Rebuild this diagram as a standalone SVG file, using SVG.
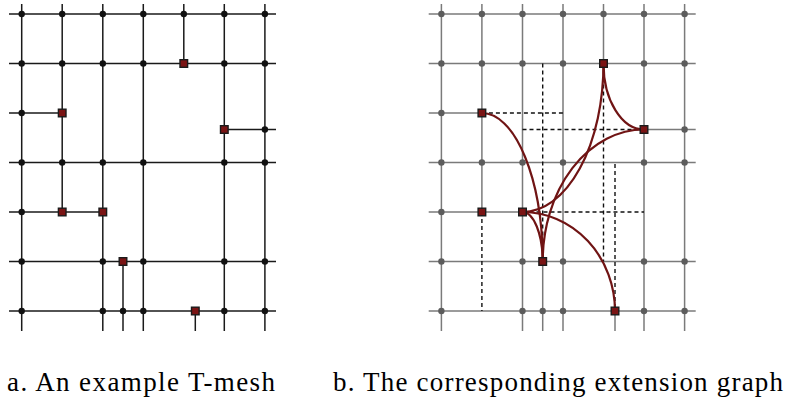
<svg xmlns="http://www.w3.org/2000/svg" width="787" height="401" viewBox="0 0 787 401">
<style>
.mesh{stroke:#1a1a1a;stroke-width:1.5}
.gmesh{stroke:#7a7a7a;stroke-width:1.5}
.dash{stroke:#111;stroke-width:1.4;stroke-dasharray:4 3}
.curve{fill:none;stroke:#701414;stroke-width:2.2}
.dot{fill:#111}
.gdot{fill:#5c5c5c}
.tj{fill:#7a1414;stroke:#1a1a1a;stroke-width:1.4}
.cap{font-family:"Liberation Serif","DejaVu Serif",serif;font-size:27px;fill:#000}
</style>
<defs>
<g id="meshlines">
<line x1="9" y1="14" x2="276" y2="14"/>
<line x1="9" y1="63.5" x2="276" y2="63.5"/>
<line x1="9" y1="113" x2="62.2" y2="113"/>
<line x1="224.3" y1="129.5" x2="276" y2="129.5"/>
<line x1="9" y1="162.5" x2="276" y2="162.5"/>
<line x1="9" y1="212" x2="102.8" y2="212"/>
<line x1="9" y1="261.5" x2="276" y2="261.5"/>
<line x1="9" y1="311" x2="276" y2="311"/>
<line x1="21.7" y1="4" x2="21.7" y2="331"/>
<line x1="62.2" y1="4" x2="62.2" y2="212"/>
<line x1="102.8" y1="4" x2="102.8" y2="331"/>
<line x1="123" y1="261.5" x2="123" y2="331"/>
<line x1="143.3" y1="4" x2="143.3" y2="331"/>
<line x1="183.8" y1="4" x2="183.8" y2="63.5"/>
<line x1="195.3" y1="311" x2="195.3" y2="331"/>
<line x1="224.3" y1="4" x2="224.3" y2="331"/>
<line x1="264.9" y1="4" x2="264.9" y2="331"/>
</g>
<g id="dots">
<circle cx="21.7" cy="14" r="3.2"/><circle cx="62.2" cy="14" r="3.2"/><circle cx="102.8" cy="14" r="3.2"/><circle cx="143.3" cy="14" r="3.2"/><circle cx="183.8" cy="14" r="3.2"/><circle cx="224.3" cy="14" r="3.2"/><circle cx="264.9" cy="14" r="3.2"/>
<circle cx="21.7" cy="63.5" r="3.2"/><circle cx="62.2" cy="63.5" r="3.2"/><circle cx="102.8" cy="63.5" r="3.2"/><circle cx="143.3" cy="63.5" r="3.2"/><circle cx="224.3" cy="63.5" r="3.2"/><circle cx="264.9" cy="63.5" r="3.2"/>
<circle cx="21.7" cy="113" r="3.2"/>
<circle cx="264.9" cy="129.5" r="3.2"/>
<circle cx="21.7" cy="162.5" r="3.2"/><circle cx="62.2" cy="162.5" r="3.2"/><circle cx="102.8" cy="162.5" r="3.2"/><circle cx="143.3" cy="162.5" r="3.2"/><circle cx="224.3" cy="162.5" r="3.2"/><circle cx="264.9" cy="162.5" r="3.2"/>
<circle cx="21.7" cy="212" r="3.2"/>
<circle cx="21.7" cy="261.5" r="3.2"/><circle cx="102.8" cy="261.5" r="3.2"/><circle cx="143.3" cy="261.5" r="3.2"/><circle cx="224.3" cy="261.5" r="3.2"/><circle cx="264.9" cy="261.5" r="3.2"/>
<circle cx="21.7" cy="311" r="3.2"/><circle cx="102.8" cy="311" r="3.2"/><circle cx="123" cy="311" r="3.2"/><circle cx="143.3" cy="311" r="3.2"/><circle cx="224.3" cy="311" r="3.2"/><circle cx="264.9" cy="311" r="3.2"/>
</g>
<g id="tjs">
<rect x="180" y="59.7" width="7.6" height="7.6"/>
<rect x="58.4" y="109.2" width="7.6" height="7.6"/>
<rect x="220.5" y="125.7" width="7.6" height="7.6"/>
<rect x="58.4" y="208.2" width="7.6" height="7.6"/>
<rect x="99" y="208.2" width="7.6" height="7.6"/>
<rect x="119.2" y="257.7" width="7.6" height="7.6"/>
<rect x="191.5" y="307.2" width="7.6" height="7.6"/>
</g>
</defs>

<g id="panel-a">
<g id="tmesh-lines" class="mesh"><use href="#meshlines"/></g>
<g id="tmesh-vertices" class="dot"><use href="#dots"/></g>
<g id="tmesh-tjunctions" class="tj"><use href="#tjs"/></g>
</g>

<g id="panel-b" transform="translate(419.7,0)">
<g id="grey-mesh" class="gmesh"><use href="#meshlines"/></g>
<g id="extensions" class="dash">
<line x1="62.2" y1="113" x2="143.3" y2="113"/>
<line x1="102.8" y1="129.5" x2="224.3" y2="129.5"/>
<line x1="123" y1="63.5" x2="123" y2="261.5"/>
<line x1="183.8" y1="63.5" x2="183.8" y2="261.5"/>
<line x1="195.3" y1="164" x2="195.3" y2="311"/>
<line x1="102.8" y1="212" x2="224.3" y2="212"/>
<line x1="62.2" y1="212" x2="62.2" y2="311"/>
</g>
<g id="graph-edges" class="curve">
<path d="M62.2,113 A60.8,148.5 0 0 1 123,261.5"/>
<path d="M183.8,63.5 A40.5,66 0 0 0 224.3,129.5"/>
<path d="M183.8,63.5 A81,148.5 0 0 1 102.8,212"/>
<path d="M224.3,129.5 A101.3,132 0 0 0 123,261.5"/>
<path d="M102.8,212 A20.2,49.5 0 0 1 123,261.5"/>
<path d="M102.8,212 A92.5,99 0 0 1 195.3,311"/>
</g>
<g id="grey-vertices" class="gdot"><use href="#dots"/></g>
<g id="graph-nodes" class="tj"><use href="#tjs"/></g>
</g>

<g id="captions">
<text class="cap" x="7" y="391" textLength="268" lengthAdjust="spacing">a.  An example T-mesh</text>
<text class="cap" x="333" y="391" textLength="450" lengthAdjust="spacing">b.  The corresponding extension graph</text>
</g>
</svg>
